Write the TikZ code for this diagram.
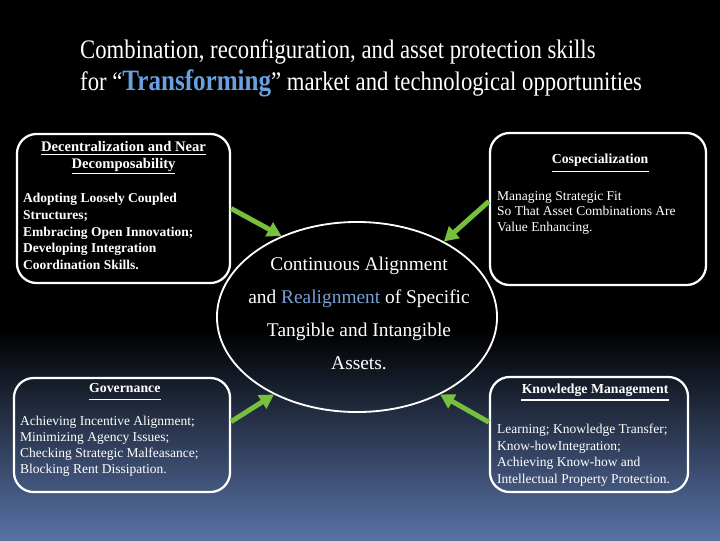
\documentclass[tikz,border=0pt]{standalone}
\usepackage{fontspec}
\setmainfont{Liberation Serif}
\usetikzlibrary{positioning,shapes,arrows.meta}
\definecolor{mygreen}{RGB}{118,192,62}
\definecolor{myblue}{RGB}{104,160,226}
\definecolor{mylightblue}{RGB}{120,160,215}
\definecolor{mymiddle}{RGB}{34,44,68}
\definecolor{mybottom}{RGB}{88,114,166}
\tikzstyle{mybox}=[rectangle, draw=white, line width=1.6pt, rounded corners=14pt]
\tikzstyle{titletext}=[text=white, inner sep=0, anchor=base west, font=\fontsize{19}{23}\selectfont, xscale=0.85, transform shape]
\tikzstyle{boxtitle}=[text=white, inner sep=0, align=center, font=\fontsize{9.8}{12}\selectfont\bfseries]
\tikzstyle{boxtext}=[text=white, inner sep=0, align=left, font=\fontsize{9.6}{11.2}\selectfont]
\tikzstyle{underrule}=[white, line width=1.1pt]
\tikzstyle{connect arrow}=[-{Triangle[length=10pt,width=11pt]}, line width=3.5pt, mygreen]

\begin{document}
\begin{tikzpicture}[x=0.025cm, y=-0.025cm]

% Background
\useasboundingbox (0,0) rectangle (720,540);
\fill[black] (0,0) rectangle (720,330);
\shade[top color=black, middle color=mymiddle, bottom color=mybottom] (0,330) rectangle (720,540);

% Title
\node[titletext] (title1) at (80,58) {Combination, reconfiguration, and asset protection skills};
\node[titletext] (title2) at (80,90) {for “{\fontsize{21}{23}\selectfont\bfseries\color{myblue}Transforming}” market and technological opportunities};

% Boxes
\node[mybox, minimum width=5.325cm, minimum height=3.725cm] (dec) at (123.5,208.5) {};
\node[mybox, minimum width=5.4cm, minimum height=3.8cm] (cosp) at (598,209) {};
\node[mybox, minimum width=5.4cm, minimum height=2.85cm] (gov) at (122,435) {};
\node[mybox, minimum width=4.95cm, minimum height=2.875cm] (km) at (589,434.5) {};

% Centre
\node[ellipse, draw=white, line width=1.3pt, minimum width=7cm, minimum height=4.75cm, inner sep=0] (core) at (357,317) {};
\node[align=center, text=white, inner sep=0, font=\fontsize{13.8}{23.5}\selectfont]
      (coretext) at (359,313) {Continuous Alignment\\and \textcolor{mylightblue}{Realignment} of Specific\\Tangible and Intangible\\Assets.};

% Decentralization
\node[boxtitle, font=\fontsize{10.4}{12}\selectfont\bfseries, below=6pt of dec.north] (dectitle) {\underline{Decentralization and Near}\\\underline{Decomposability}};
\node[boxtext, font=\fontsize{9.6}{12}\selectfont\bfseries, below right=42.5pt and 5pt of dec.north west]
      (decbody) {Adopting Loosely Coupled\\Structures;\\Embracing Open Innovation;\\Developing Integration\\Coordination Skills.};

% Cospecialization
\node[boxtitle, below=15.6pt of cosp.north, xshift=1.5pt] (cosptitle) {Cospecialization};
\node[boxtext, below right=42pt and 5.7pt of cosp.north west]
      (cospbody) {Managing Strategic Fit\\So That Asset Combinations Are\\Value Enhancing.};

% Governance
\node[boxtitle, below=4.3pt of gov.north, xshift=2pt] (govtitle) {Governance};
\node[boxtext, font=\fontsize{9.6}{11.4}\selectfont, below right=27.5pt and 5pt of gov.north west]
      (govbody) {Achieving Incentive Alignment;\\Minimizing Agency Issues;\\Checking Strategic Malfeasance;\\Blocking Rent Dissipation.};

% Knowledge management
\node[boxtitle, below=5.7pt of km.north, xshift=4.3pt] (kmtitle) {Knowledge Management};
\node[boxtext, font=\fontsize{9.6}{11.9}\selectfont, below right=34pt and 5.7pt of km.north west]
      (kmbody) {Learning; Knowledge Transfer;\\Know-howIntegration;\\Achieving Know-how and\\Intellectual Property Protection.};

% Underlines
\draw[underrule] ([yshift=-5.5pt]cosptitle.base west) -- ([yshift=-5.5pt]cosptitle.base east);
\draw[underrule] ([yshift=-5pt]govtitle.base west) -- ([yshift=-5pt]govtitle.base east);
\draw[underrule] ([yshift=-4.5pt]kmtitle.base west) -- ([yshift=-4.5pt]kmtitle.base east);

\begin{scope}[connect arrow]
    \draw (dec.east) -- (core.133);
    \draw (cosp.176) -- (core.41);
    \draw (gov.7) -- (core.223);
    \draw (km.173) -- (core.317);
\end{scope}

\end{tikzpicture}
\end{document}
